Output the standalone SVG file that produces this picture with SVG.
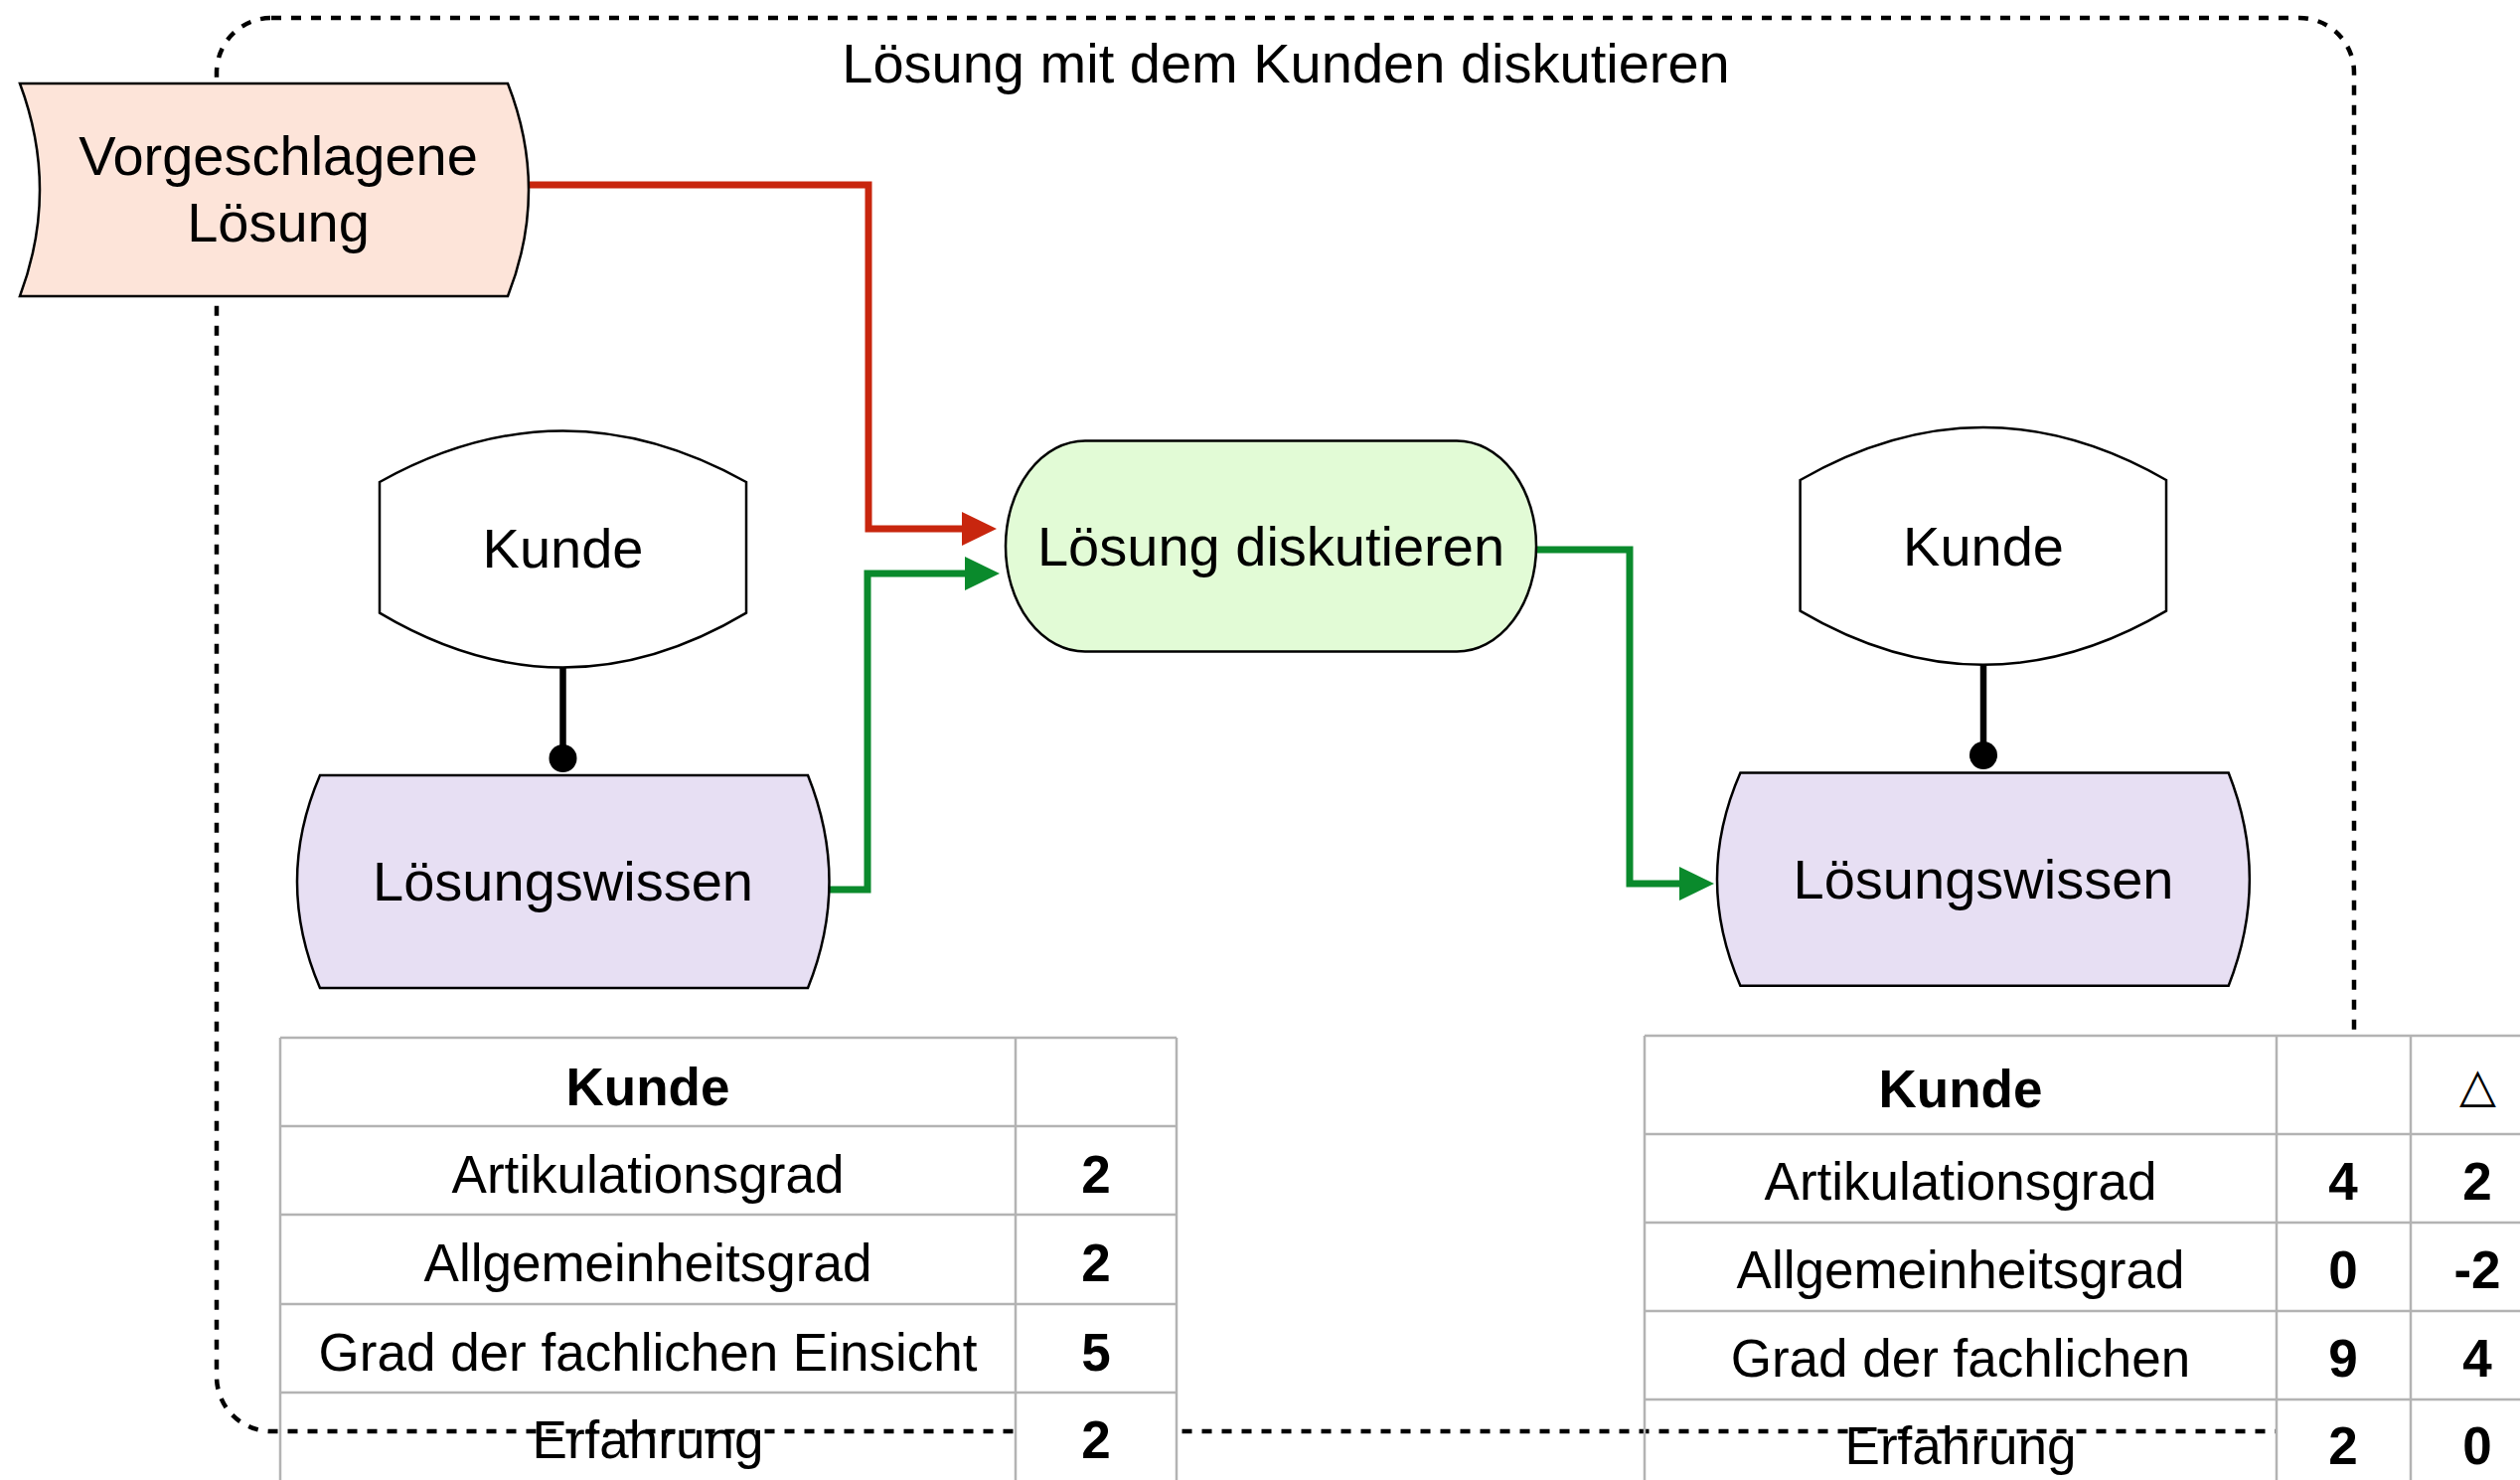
<svg xmlns="http://www.w3.org/2000/svg" width="2536" height="1489" viewBox="0 0 2536 1489">
  <style>
    .txt { font-family: "Liberation Sans", Arial, Helvetica, sans-serif; fill: #000; }
    .node-label { font-size: 56px; text-anchor: middle; }
    .cell { font-size: 53px; text-anchor: middle; }
    .num { font-size: 53px; text-anchor: middle; font-weight: bold; }
    .shape { stroke: #000; stroke-width: 2.5; }
    .grid { stroke: #b3b3b3; stroke-width: 2.5; fill: none; }
    .flow { fill: none; stroke-width: 7; stroke-linejoin: miter; }
  </style>
  <defs>
    <marker id="arrow-red" markerUnits="userSpaceOnUse" markerWidth="36" markerHeight="36" refX="0" refY="17" orient="auto" viewBox="0 0 36 34">
      <path d="M0,0 L35,17 L0,34 Z" fill="#c8260e"/>
    </marker>
    <marker id="arrow-green" markerUnits="userSpaceOnUse" markerWidth="36" markerHeight="36" refX="0" refY="17" orient="auto" viewBox="0 0 36 34">
      <path d="M0,0 L35,17 L0,34 Z" fill="#0a8a2c"/>
    </marker>
    <marker id="dot" markerUnits="userSpaceOnUse" markerWidth="30" markerHeight="30" refX="15" refY="15" orient="auto" viewBox="0 0 30 30">
      <circle cx="15" cy="15" r="14" fill="#000"/>
    </marker>
  </defs>

  <rect width="2536" height="1489" fill="#fff"/>

  <!-- process frame -->
  <g id="frame">
    <rect x="218" y="18" width="2151" height="1422" rx="55" ry="55" fill="none" stroke="#000" stroke-width="4.5" stroke-dasharray="10 10"/>
    <text class="txt node-label" x="1294" y="83">Lösung mit dem Kunden diskutieren</text>
  </g>

  <!-- left table -->
  <g id="table-before">
    <rect x="1022" y="1044" width="162" height="446" fill="#fff"/>
    <path class="grid" d="M282 1044 H1184 M282 1133 H1184 M282 1222 H1184 M282 1312 H1184 M282 1401 H1184 M282 1044 V1489 M1022 1044 V1489 M1184 1044 V1489"/>
    <text class="txt num" x="652" y="1112">Kunde</text>
    <text class="txt cell" x="652" y="1200">Artikulationsgrad</text>
    <text class="txt num" x="1103" y="1200">2</text>
    <text class="txt cell" x="652" y="1289">Allgemeinheitsgrad</text>
    <text class="txt num" x="1103" y="1289">2</text>
    <text class="txt cell" x="652" y="1379">Grad der fachlichen Einsicht</text>
    <text class="txt num" x="1103" y="1379">5</text>
    <text class="txt cell" x="652" y="1467">Erfahrung</text>
    <text class="txt num" x="1103" y="1467">2</text>
  </g>

  <!-- right table -->
  <g id="table-after">
    <rect x="2291" y="1042" width="260" height="460" fill="#fff"/>
    <path class="grid" d="M1655 1042 H2536 M1655 1141 H2536 M1655 1230 H2536 M1655 1319 H2536 M1655 1408 H2536 M1655 1042 V1489 M2291 1042 V1489 M2426 1042 V1489"/>
    <text class="txt num" x="1973" y="1114">Kunde</text>
    <text class="txt" x="2493" y="1108" font-family="DejaVu Sans, sans-serif" font-size="48" text-anchor="middle">△</text>
    <text class="txt cell" x="1973" y="1207">Artikulationsgrad</text>
    <text class="txt num" x="2358" y="1207">4</text>
    <text class="txt num" x="2493" y="1207">2</text>
    <text class="txt cell" x="1973" y="1296">Allgemeinheitsgrad</text>
    <text class="txt num" x="2358" y="1296">0</text>
    <text class="txt num" x="2493" y="1296">-2</text>
    <text class="txt cell" x="1973" y="1385">Grad der fachlichen</text>
    <text class="txt num" x="2358" y="1385">9</text>
    <text class="txt num" x="2493" y="1385">4</text>
    <text class="txt cell" x="1973" y="1473">Erfahrung</text>
    <text class="txt num" x="2358" y="1473">2</text>
    <text class="txt num" x="2493" y="1473">0</text>
  </g>

  <!-- connectors -->
  <g id="connectors">
    <path class="flow" stroke="#c8260e" d="M532 186 H874 V532 H968" marker-end="url(#arrow-red)"/>
    <path class="flow" stroke="#0a8a2c" d="M834 895 H873 V577 H971" marker-end="url(#arrow-green)"/>
    <path class="flow" stroke="#0a8a2c" d="M1546 553 H1640 V889 H1690" marker-end="url(#arrow-green)"/>
    <path fill="none" stroke="#000" stroke-width="6.5" d="M566.5 671 V763" marker-end="url(#dot)"/>
    <path fill="none" stroke="#000" stroke-width="6.5" d="M1996 669 V760" marker-end="url(#dot)"/>
  </g>

  <!-- nodes -->
  <g id="vorgeschlagene-loesung">
    <path class="shape" fill="#fde4d9" d="M20 84 L511 84 Q553 191 511 298 L20 298 Q60 191 20 84 Z"/>
    <text class="txt node-label" x="280" y="176">Vorgeschlagene</text>
    <text class="txt node-label" x="280" y="243">Lösung</text>
  </g>

  <g id="kunde-1">
    <path class="shape" fill="#fff" d="M382 485 Q566.5 382 751 485 L751 616.6 Q566.5 726.4 382 616.6 Z"/>
    <text class="txt node-label" x="566.5" y="571">Kunde</text>
  </g>

  <g id="loesungswissen-1">
    <path class="shape" fill="#e7dff3" d="M322 780 L813 780 Q856 887 813 994 L322 994 Q276 887 322 780 Z"/>
    <text class="txt node-label" x="566.5" y="906">Lösungswissen</text>
  </g>

  <g id="loesung-diskutieren">
    <path class="shape" fill="#e2fbd6" d="M1092 443.5 H1466 A80 106 0 0 1 1546 549.5 A80 106 0 0 1 1466 655.5 H1092 A80 106 0 0 1 1012 549.5 A80 106 0 0 1 1092 443.5 Z"/>
    <text class="txt node-label" x="1279" y="569">Lösung diskutieren</text>
  </g>

  <g id="kunde-2">
    <path class="shape" fill="#fff" d="M1811.6 483 Q1995.8 377 2180 483 L2180 614.6 Q1995.8 723 1811.6 614.6 Z"/>
    <text class="txt node-label" x="1996" y="569">Kunde</text>
  </g>

  <g id="loesungswissen-2">
    <path class="shape" fill="#e7dff3" d="M1751.4 777.5 L2242.7 777.5 Q2285 884.6 2242.7 991.7 L1751.4 991.7 Q1704.6 884.6 1751.4 777.5 Z"/>
    <text class="txt node-label" x="1996" y="904">Lösungswissen</text>
  </g>
</svg>
